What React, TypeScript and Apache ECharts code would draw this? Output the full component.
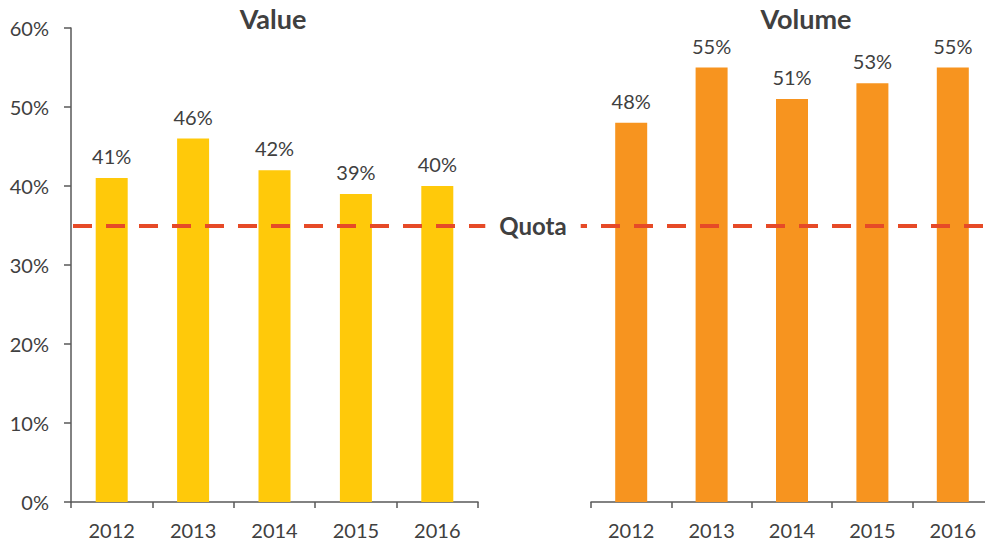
import React, { useEffect, useRef } from "react";
import * as echarts from "echarts";

const categories = ["2012", "2013", "2014", "2015", "2016"];
const valueShare = [41, 46, 42, 39, 40];
const volumeShare = [48, 55, 51, 53, 55];
const quota = 35;
const titles = ["Value", "Volume"];

const FONT = "Lato, 'Open Sans', sans-serif";
const TXT = "#404040";
const AX = "#595959";

export default function App() {
  const ref = useRef<HTMLDivElement>(null);
  useEffect(() => {
    if (!ref.current) return;
    const chart = echarts.init(ref.current, null, { renderer: "svg" });
    const gridTop = 28;
    const gridH = 474;
    const xAxisCommon = (gi: number) => ({
      type: "category",
      gridIndex: gi,
      data: categories,
      axisLine: { show: true, lineStyle: { color: AX, width: 1.5 } },
      axisTick: { show: true, length: 6, lineStyle: { color: AX, width: 1.5 } },
      axisLabel: { color: TXT, fontSize: 20, fontFamily: FONT, margin: 18 },
    });
    const barLabel = {
      show: true,
      position: "top",
      distance: 12,
      color: TXT,
      fontSize: 20,
      fontFamily: FONT,
      formatter: (p: any) => p.value + "%",
    };
    const titleStyle = { color: TXT, fontSize: 27, fontWeight: "bold", fontFamily: FONT };
    chart.setOption({
      animation: false,
      backgroundColor: "#ffffff",
      title: [
        { text: titles[0], left: 273, top: 5, padding: 0, textAlign: "center", textStyle: titleStyle },
        { text: titles[1], left: 806, top: 5, padding: 0, textAlign: "center", textStyle: titleStyle },
      ],
      grid: [
        { left: 71, top: gridTop, width: 407, height: gridH },
        { left: 591, top: gridTop, width: 405, height: gridH },
        { left: 73, top: gridTop, width: 920, height: gridH },
      ],
      xAxis: [
        xAxisCommon(0),
        xAxisCommon(1),
        { type: "value", gridIndex: 2, min: 0, max: 1, show: false },
      ],
      yAxis: [
        {
          type: "value",
          gridIndex: 0,
          min: 0,
          max: 60,
          interval: 10,
          splitLine: { show: false },
          axisLine: { show: true, lineStyle: { color: AX, width: 1.5 } },
          axisTick: { show: true, length: 7, lineStyle: { color: AX, width: 1.5 } },
          axisLabel: {
            color: TXT,
            fontSize: 20,
            fontFamily: FONT,
            margin: 22,
            formatter: (v: number) => v + "%",
          },
        },
        { type: "value", gridIndex: 1, min: 0, max: 60, interval: 10, show: false, splitLine: { show: false } },
        { type: "value", gridIndex: 2, min: 0, max: 60, interval: 10, show: false, splitLine: { show: false } },
      ],
      series: [
        {
          type: "bar",
          xAxisIndex: 0,
          yAxisIndex: 0,
          data: valueShare,
          barWidth: 32,
          itemStyle: { color: "#FFC90A" },
          label: barLabel,
        },
        {
          type: "bar",
          xAxisIndex: 1,
          yAxisIndex: 1,
          data: volumeShare,
          barWidth: 32,
          itemStyle: { color: "#F7941F" },
          label: barLabel,
        },
        {
          type: "line",
          xAxisIndex: 2,
          yAxisIndex: 2,
          data: [],
          z: 10,
          markLine: {
            silent: true,
            symbol: "none",
            lineStyle: { color: "#E64A27", width: 4, type: [19, 14] },
            label: {
              show: true,
              position: "middle",
              formatter: "Quota",
              color: TXT,
              fontSize: 24,
              fontWeight: "bold",
              fontFamily: FONT,
              backgroundColor: "#ffffff",
              padding: [4, 14],
              verticalAlign: "middle",
              distance: 0,
            },
            data: [{ yAxis: quota }],
          },
        },
      ],
    });
    return () => chart.dispose();
  }, []);
  return <div ref={ref} style={{ width: 993, height: 547, margin: -8 }} />;
}
